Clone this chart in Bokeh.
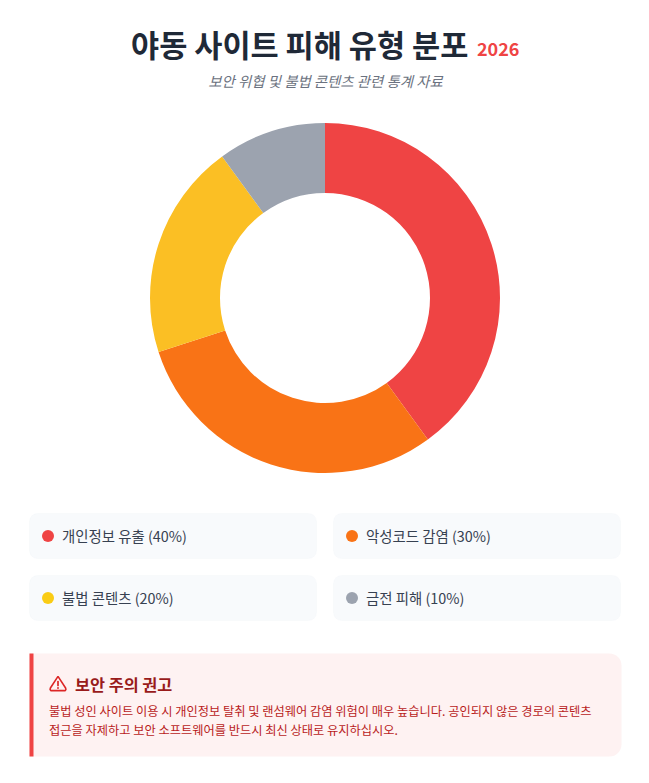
from math import pi
import numpy as np
from bokeh.plotting import figure
from bokeh.models import BoxAnnotation, ColumnDataSource, Range1d
from bokeh.core.properties import value
from bokeh.embed import file_html
from bokeh.resources import INLINE

categories = ["개인정보 유출", "악성코드 감염", "불법 콘텐츠", "금전 피해"]
shares = [40, 30, 20, 10]
wedge_colors = ["#ef4444", "#f97316", "#fbbf24", "#9ca3af"]
dot_colors = ["#ef4444", "#f97316", "#facc15", "#9ca3af"]
title_text = "야동 사이트 피해 유형 분포"
year_text = "2026"
subtitle_text = "보안 위협 및 불법 콘텐츠 관련 통계 자료"
alert_title = "보안 주의 권고"
alert_lines = [
    "불법 성인 사이트 이용 시 개인정보 탈취 및 랜섬웨어 감염 위험이 매우 높습니다. 공인되지 않은 경로의 콘텐츠",
    "접근을 자제하고 보안 소프트웨어를 반드시 최신 상태로 유지하십시오.",
]

FONT = value("Noto Sans CJK KR")
W, H = 640, 770


def X(px):
    return px - 0.5


def Y(py):
    return H - (py - 0.5)


p = figure(width=W, height=H, output_backend="svg", toolbar_location=None,
           x_range=Range1d(0, W), y_range=Range1d(0, H), min_border=0,
           outline_line_color=None, background_fill_color="white", border_fill_color="white")
p.axis.visible = False
p.grid.visible = False


def txt(px, py, s, size, color, style="normal", align="left"):
    p.text([X(px)], [Y(py)], text=[s], text_font=FONT, text_font_size=f"{size}px",
           text_color=color, text_font_style=style, text_align=align, text_baseline="middle")


# titles
txt(131, 44, title_text, 30.6, "#1f2937", "bold")
txt(477, 49, year_text, 18, "#ef4444", "bold")
txt(325.5, 80.5, subtitle_text, 14.4, "#6b7280", "italic", "center")

# donut
fractions = np.array(shares) / sum(shares)
ends = np.cumsum(fractions)
starts = ends - fractions
donut = ColumnDataSource(dict(
    start=pi / 2 - 2 * pi * ends,
    end=pi / 2 - 2 * pi * starts,
    color=wedge_colors,
))
p.annular_wedge(x=X(325), y=Y(298), inner_radius=105, outer_radius=175,
                start_angle="start", end_angle="end", fill_color="color",
                line_color=None, source=donut)

# legend cards
cells = [(29, 513), (333, 513), (29, 575), (333, 575)]
for (cx, cy), name, share, color in zip(cells, categories, shares, dot_colors):
    p.add_layout(BoxAnnotation(left=cx, right=cx + 287, top=Y(cy + 0.5), bottom=Y(cy + 45.5),
                               fill_color="#f8fafc", fill_alpha=1, line_color="#f1f5f9",
                               line_width=1, border_radius=8, level="underlay"))
    p.circle([X(cx + 19)], [Y(cy + 23)], radius=6, fill_color=color, line_color=None)
    txt(cx + 33, cy + 22.5, f"{name} ({share}%)", 14.4, "#374151")

# alert box
p.add_layout(BoxAnnotation(left=29, right=621, top=Y(653.5), bottom=Y(756.5),
                           fill_color="#fef2f2", fill_alpha=1, line_color=None,
                           border_radius=(0, 12, 12, 0), level="underlay"))
p.add_layout(BoxAnnotation(left=29, right=33, top=Y(653.5), bottom=Y(756.5),
                           fill_color="#ef4444", fill_alpha=1, line_color=None, level="underlay"))

# warning icon
ic = "#dc2626"
p.line([X(v) for v in [58, 65.6, 65.9, 65.2, 50.8, 50.1, 50.4, 58]],
       [Y(v) for v in [676.4, 688, 689.6, 690.6, 690.6, 689.6, 688, 676.4]],
       line_color=ic, line_width=1.6, line_join="round")
p.line([X(58), X(58)], [Y(681.5), Y(685.5)], line_color=ic, line_width=1.7, line_cap="round")
p.line([X(58), X(58.01)], [Y(688), Y(688)], line_color=ic, line_width=1.9, line_cap="round")

txt(75, 683.5, alert_title, 16.3, "#991b1b", "bold")
txt(49, 711, alert_lines[0], 12.24, "#b91c1c")
txt(49, 730, alert_lines[1], 12.24, "#b91c1c")

open("out.html", "w").write(file_html(p, INLINE))
